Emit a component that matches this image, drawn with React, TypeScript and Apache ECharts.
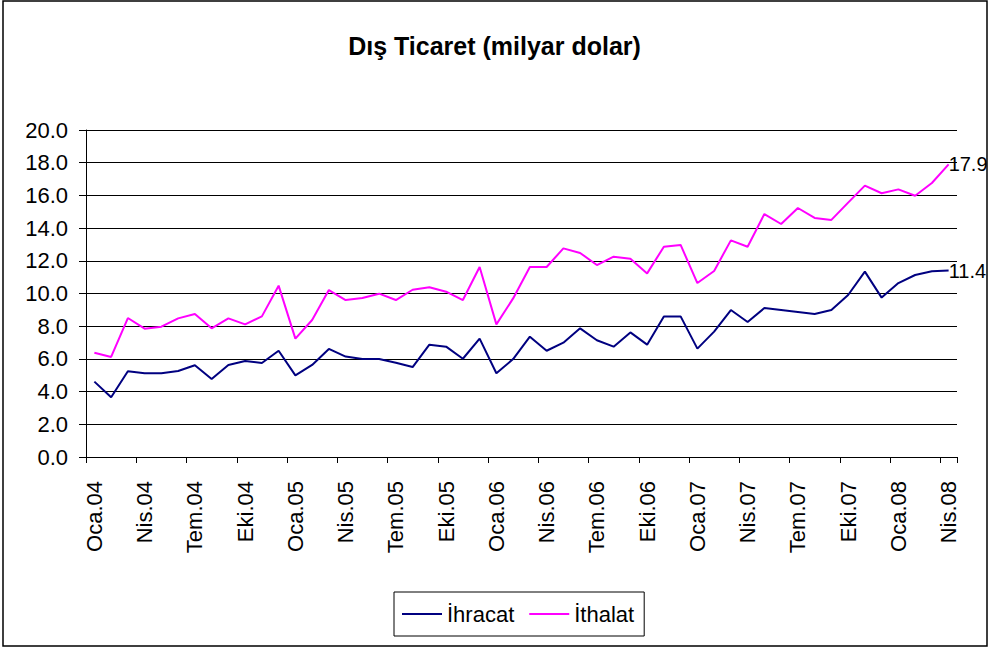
import React, { useEffect, useRef } from "react";
import * as echarts from "echarts";

const categories = [
  "Oca.04", "Şub.04", "Mar.04", "Nis.04", "May.04", "Haz.04", "Tem.04", "Ağu.04", "Eyl.04", "Eki.04", "Kas.04", "Ara.04",
  "Oca.05", "Şub.05", "Mar.05", "Nis.05", "May.05", "Haz.05", "Tem.05", "Ağu.05", "Eyl.05", "Eki.05", "Kas.05", "Ara.05",
  "Oca.06", "Şub.06", "Mar.06", "Nis.06", "May.06", "Haz.06", "Tem.06", "Ağu.06", "Eyl.06", "Eki.06", "Kas.06", "Ara.06",
  "Oca.07", "Şub.07", "Mar.07", "Nis.07", "May.07", "Haz.07", "Tem.07", "Ağu.07", "Eyl.07", "Eki.07", "Kas.07", "Ara.07",
  "Oca.08", "Şub.08", "Mar.08", "Nis.08",
];

const ihracat = [
  4.61, 3.65, 5.24, 5.12, 5.12, 5.26, 5.61, 4.77, 5.63, 5.87, 5.75, 6.5,
  4.99, 5.63, 6.61, 6.14, 5.99, 5.99, 5.77, 5.5, 6.87, 6.75, 6.01, 7.24,
  5.12, 5.99, 7.36, 6.5, 6.99, 7.87, 7.14, 6.75, 7.62, 6.87, 8.6, 8.6,
  6.63, 7.67, 8.99, 8.26, 9.11, 8.99, 8.87, 8.75, 8.99, 9.91, 11.34, 9.75,
  10.64, 11.13, 11.36, 11.4,
];

const ithalat = [
  6.38, 6.12, 8.5, 7.85, 7.97, 8.48, 8.75, 7.87, 8.48, 8.11, 8.6, 10.48,
  7.24, 8.38, 10.21, 9.6, 9.72, 9.99, 9.6, 10.23, 10.38, 10.11, 9.6, 11.62,
  8.11, 9.7, 11.62, 11.62, 12.76, 12.48, 11.74, 12.25, 12.13, 11.23, 12.86, 12.97,
  10.64, 11.38, 13.25, 12.86, 14.86, 14.25, 15.23, 14.62, 14.5, 15.56, 16.6, 16.13,
  16.37, 15.98, 16.76, 17.9,
];

const FONT = "'Liberation Sans', Arial, sans-serif";

export default function App() {
  const ref = useRef<HTMLDivElement>(null);
  useEffect(() => {
    if (!ref.current) return;
    const chart = echarts.init(ref.current, null, { renderer: "svg" });
    const endLabel = {
      show: true,
      formatter: (p: any) => Number(p.value).toFixed(1),
      distance: 0,
      fontSize: 20,
      color: "#000",
      fontFamily: FONT,
    };
    chart.setOption({
      animation: false,
      backgroundColor: "#fff",
      textStyle: { fontFamily: FONT },
      title: {
        text: "Dış Ticaret (milyar dolar)",
        left: "center",
        top: 28,
        textStyle: { fontSize: 25, fontWeight: "bold", color: "#000", fontFamily: FONT },
      },
      graphic: [
        {
          type: "rect",
          shape: { x: 3, y: 1, width: 984, height: 645 },
          style: { fill: "none", stroke: "#000", lineWidth: 1.5 },
          silent: true,
        },
      ],
      legend: {
        left: 394,
        top: 592,
        width: 253,
        height: 46,
        padding: [11, 10, 11, 8],
        itemGap: 15,
        itemWidth: 40,
        itemHeight: 2,
        borderColor: "#000",
        borderWidth: 1,
        icon: "rect",
        textStyle: { fontSize: 22, color: "#000", fontFamily: FONT, padding: [0, 0, 0, 0] },
        data: ["İhracat", "İthalat"],
      },
      grid: { left: 86, right: 32, top: 130, bottom: 191, containLabel: false },
      xAxis: {
        type: "category",
        data: categories,
        boundaryGap: true,
        axisLine: { show: true, lineStyle: { color: "#000", width: 1 } },
        axisTick: { show: true, interval: 2, length: 6, alignWithLabel: false, lineStyle: { color: "#000" } },
        axisLabel: {
          interval: 2,
          rotate: 90,
          margin: 24,
          fontSize: 22,
          color: "#000",
          fontFamily: FONT,
        },
        splitLine: { show: false },
      },
      yAxis: {
        type: "value",
        min: 0,
        max: 20,
        interval: 2,
        axisLine: { show: true, lineStyle: { color: "#000", width: 1 } },
        axisTick: { show: true, length: 7, lineStyle: { color: "#000" } },
        axisLabel: {
          formatter: (v: number) => v.toFixed(1),
          fontSize: 22,
          color: "#000",
          margin: 18,
          fontFamily: FONT,
        },
        splitLine: { show: true, lineStyle: { color: "#000", width: 1 } },
      },
      series: [
        {
          name: "İhracat",
          type: "line",
          data: ihracat,
          symbol: "none",
          lineStyle: { color: "#000080", width: 2 },
          itemStyle: { color: "#000080" },
          endLabel,
        },
        {
          name: "İthalat",
          type: "line",
          data: ithalat,
          symbol: "none",
          lineStyle: { color: "#FF00FF", width: 2 },
          itemStyle: { color: "#FF00FF" },
          endLabel,
        },
      ],
    });
    return () => chart.dispose();
  }, []);
  return (
    <div
      ref={ref}
      style={{ position: "fixed", left: 0, top: 0, width: 989, height: 648, background: "#fff" }}
    />
  );
}
